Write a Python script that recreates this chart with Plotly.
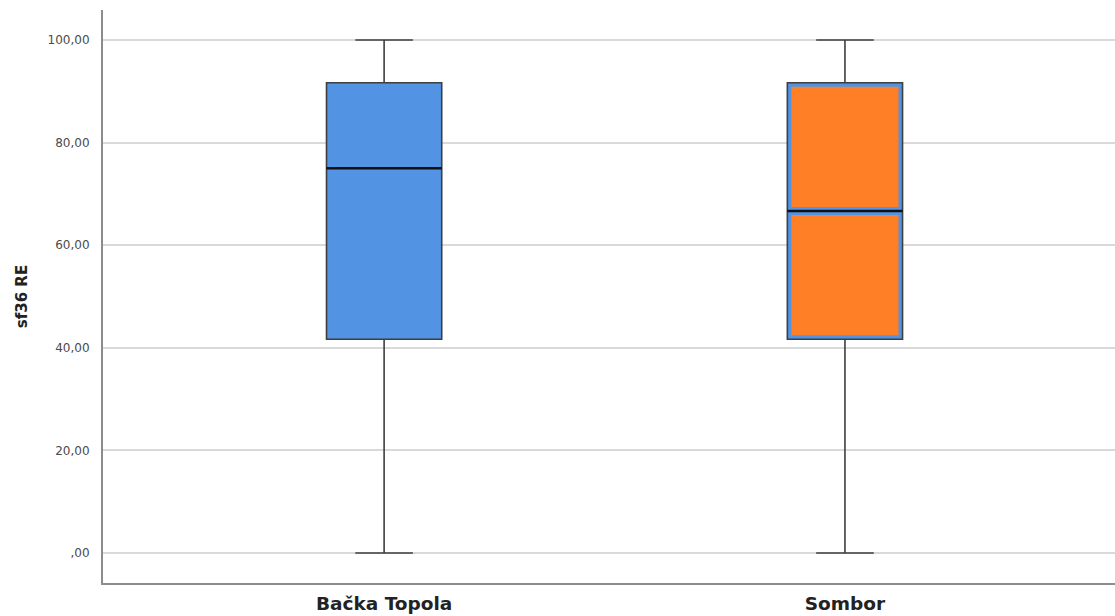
import plotly.graph_objects as go

# ---- data ----
categories = ["Bačka Topola", "Sombor"]
q1_vals = [41.67, 41.67]
median_vals = [75.0, 66.67]
q3_vals = [91.67, 91.67]
lower_vals = [0.0, 0.0]
upper_vals = [100.0, 100.0]
fill_colors = ["#5293E3", "#FF7F27"]
y_tickvals = [0, 20, 40, 60, 80, 100]
y_ticktext = [",00", "20,00", "40,00", "60,00", "80,00", "100,00"]
y_title = "sf36 RE"

# ---- layout constants ----
W, H = 1115, 616
ML, MR, MT, MB = 103, 0, 10, 33
Y_RANGE = [-5.85, 105.85]
X_RANGE = [-0.61, 1.586]
BOX_W = 0.25
BLUE = "#5293E3"
OUTLINE = "#3f3f3f"
FONT = "DejaVu Sans, Verdana, sans-serif"

px_per_x = (W - ML - MR) / (X_RANGE[1] - X_RANGE[0])
px_per_y = (H - MT - MB) / (Y_RANGE[1] - Y_RANGE[0])
inset_px = 4.0
dx = inset_px / px_per_x
dy = inset_px / px_per_y

fig = go.Figure()

for i, cat in enumerate(categories):
    # main box with whiskers (blue fill, dark outline)
    fig.add_trace(go.Box(
        x=[cat], q1=[q1_vals[i]], median=[median_vals[i]], q3=[q3_vals[i]],
        lowerfence=[lower_vals[i]], upperfence=[upper_vals[i]],
        width=BOX_W, whiskerwidth=0.5, boxpoints=False,
        fillcolor=BLUE, line=dict(color=OUTLINE, width=1.6),
        showlegend=False, hoverinfo="skip",
    ))
    if fill_colors[i] != BLUE:
        # inner filled halves leaving a blue border
        halves = [(q1_vals[i] + dy, median_vals[i] - dy), (median_vals[i] + dy, q3_vals[i] - dy)]
        for lo, hi in halves:
            mid = (lo + hi) / 2
            fig.add_trace(go.Box(
                x=[cat], q1=[lo], median=[mid], q3=[hi],
                lowerfence=[lo], upperfence=[hi],
                width=BOX_W - 2 * dx, whiskerwidth=0, boxpoints=False,
                fillcolor=fill_colors[i], line=dict(color=fill_colors[i], width=0),
                showlegend=False, hoverinfo="skip",
            ))
    # median line
    fig.add_trace(go.Box(
        x=[cat], q1=[median_vals[i]], median=[median_vals[i]], q3=[median_vals[i]],
        lowerfence=[median_vals[i]], upperfence=[median_vals[i]],
        width=BOX_W, whiskerwidth=0, boxpoints=False,
        fillcolor="rgba(0,0,0,0)", line=dict(color="#111111", width=2.5),
        showlegend=False, hoverinfo="skip",
    ))

fig.update_layout(
    width=W, height=H,
    margin=dict(l=ML, r=MR, t=MT, b=MB),
    plot_bgcolor="white", paper_bgcolor="white",
    boxmode="overlay",
    font=dict(family=FONT, color="#333333"),
)
fig.update_xaxes(
    type="category", categoryorder="array", categoryarray=categories,
    range=X_RANGE, showgrid=False, zeroline=False, automargin=False,
    showline=True, linecolor="#8c8c8c", linewidth=2,
    ticks="", ticklabelstandoff=3,
    tickfont=dict(size=18.5, color="#222222", family=FONT, weight="bold"),
)
fig.update_yaxes(
    range=Y_RANGE, tickvals=y_tickvals, ticktext=y_ticktext,
    showgrid=True, gridcolor="#d9d9d9", gridwidth=1.5, zeroline=False, automargin=False,
    showline=True, linecolor="#8c8c8c", linewidth=2,
    ticks="", ticklabelstandoff=9,
    tickfont=dict(size=12, color="#4a4a4a", family=FONT),
    title=dict(text=y_title, standoff=16,
               font=dict(size=15, color="#222222", family=FONT, weight="bold")),
)

fig.write_html(
    "out.html",
    config={"displayModeBar": False},
    post_script="document.body.style.margin='0';document.documentElement.style.overflow='hidden';",
)
